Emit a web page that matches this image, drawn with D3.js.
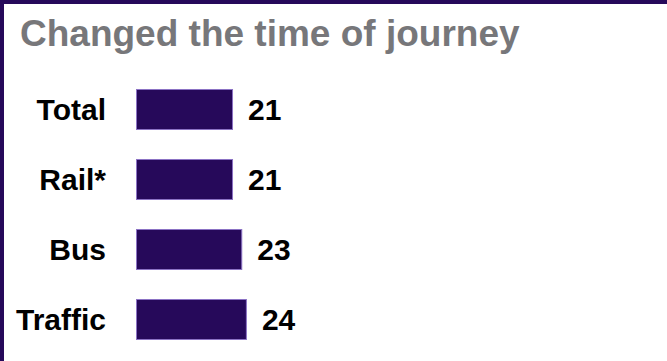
<!DOCTYPE html>
<html>
<head>
<meta charset="utf-8">
<script src="https://cdn.jsdelivr.net/npm/d3@7"></script>
<style>
  html, body { margin: 0; padding: 0; background: #ffffff; }
  svg { display: block; }
</style>
</head>
<body>
<div id="chart"></div>
<script>
// Share of respondents who changed the time of their journey, by mode
const title = "Changed the time of journey";
const categories = ["Total", "Rail*", "Bus", "Traffic"];
const values = [21, 21, 23, 24];

const width = 667, height = 361;
const barColor = "#26095a";
const barStroke = "#8b72c4";
const frameColor = "#26095a";
const fontFamily = "Liberation Sans, Arial, sans-serif";

const svg = d3.select("#chart").append("svg")
  .attr("width", width)
  .attr("height", height);

// Frame: heavy rule along the top and left edges
svg.append("rect").attr("x", 0).attr("y", 0).attr("width", width).attr("height", 4)
  .attr("fill", frameColor);
svg.append("rect").attr("x", 0).attr("y", 0).attr("width", 4).attr("height", height)
  .attr("fill", frameColor);

svg.append("text")
  .attr("x", 20)
  .attr("y", 46)
  .attr("font-family", fontFamily)
  .attr("font-weight", "bold")
  .attr("font-size", 37)
  .attr("fill", "#77777a")
  .text(title);

const x = d3.scaleLinear().domain([0, 100]).range([136, 136 + 462]);
const y = d3.scaleBand().domain(categories).range([74.5, 354.5])
  .paddingInner(0.4143).paddingOuter(0.2071);

const rows = svg.append("g").selectAll("g")
  .data(categories.map((c, i) => ({ cat: c, val: values[i] })))
  .join("g");

rows.append("rect")
  .attr("x", x(0) + 0.5)
  .attr("y", d => y(d.cat) + 0.5)
  .attr("width", d => x(d.val) - x(0) - 1)
  .attr("height", y.bandwidth() - 1)
  .attr("fill", barColor)
  .attr("stroke", barStroke)
  .attr("stroke-width", 1);

rows.append("text")
  .attr("x", 106)
  .attr("y", d => y(d.cat) + y.bandwidth() / 2)
  .attr("dy", "0.35em")
  .attr("text-anchor", "end")
  .attr("font-family", fontFamily)
  .attr("font-weight", "bold")
  .attr("font-size", 30)
  .attr("fill", "#000")
  .text(d => d.cat);

rows.append("text")
  .attr("x", d => x(d.val) + 15)
  .attr("y", d => y(d.cat) + y.bandwidth() / 2)
  .attr("dy", "0.35em")
  .attr("font-family", fontFamily)
  .attr("font-weight", "bold")
  .attr("font-size", 30)
  .attr("fill", "#000")
  .text(d => d.val);
</script>
</body>
</html>
